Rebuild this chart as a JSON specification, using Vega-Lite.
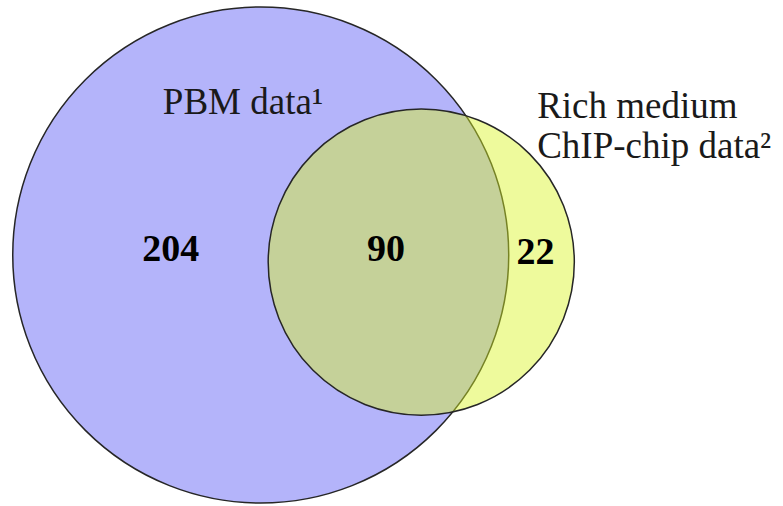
{
  "$schema": "https://vega.github.io/schema/vega-lite/v6.json",
  "width": 783,
  "height": 506,
  "padding": 0,
  "autosize": {"type": "none"},
  "background": "white",
  "config": {"view": {"stroke": null}},
  "datasets": {
    "sets": [
      {"set": "PBM data", "total": 294, "x": 33.3, "y": 49.6},
      {"set": "Rich medium ChIP-chip data", "total": 112, "x": 53.8, "y": 48.2}
    ],
    "names": [
      {"label": "PBM data¹", "x": 20.8, "y": 77.5},
      {"label": "Rich medium", "x": 68.6, "y": 76.7},
      {"label": "ChIP-chip data²", "x": 68.6, "y": 68.8}
    ],
    "counts": [
      {"region": "PBM only", "count": 204, "x": 21.8, "y": 48.4},
      {"region": "Both", "count": 90, "x": 49.3, "y": 48.4},
      {"region": "ChIP-chip only", "count": 22, "x": 68.4, "y": 47.8}
    ]
  },
  "encoding": {
    "x": {"field": "x", "type": "quantitative", "scale": {"domain": [0, 100]}, "axis": null},
    "y": {"field": "y", "type": "quantitative", "scale": {"domain": [0, 100]}, "axis": null}
  },
  "layer": [
    {
      "data": {"name": "sets"},
      "mark": {"type": "point", "shape": "circle", "filled": true, "opacity": 1, "stroke": "#262626", "strokeWidth": 1.5, "strokeOpacity": 1},
      "encoding": {
        "size": {"field": "total", "type": "quantitative", "scale": {"domain": [0, 294], "range": [0, 246016]}, "legend": null},
        "fill": {"field": "set", "type": "nominal", "scale": {"domain": ["PBM data", "Rich medium ChIP-chip data"], "range": ["#b4b4fa", "#d9f423"]}, "legend": null},
        "fillOpacity": {"field": "set", "type": "nominal", "scale": {"domain": ["PBM data", "Rich medium ChIP-chip data"], "range": [1, 0.45]}, "legend": null}
      }
    },
    {
      "data": {"name": "names"},
      "mark": {"type": "text", "font": "Liberation Serif", "fontSize": 37, "align": "left", "baseline": "alphabetic", "color": "#1a1a1a"},
      "encoding": {"text": {"field": "label"}}
    },
    {
      "data": {"name": "counts"},
      "mark": {"type": "text", "font": "Liberation Serif", "fontSize": 38, "fontWeight": "bold", "align": "center", "baseline": "alphabetic", "color": "#000000"},
      "encoding": {"text": {"field": "count", "type": "quantitative"}}
    }
  ]
}
